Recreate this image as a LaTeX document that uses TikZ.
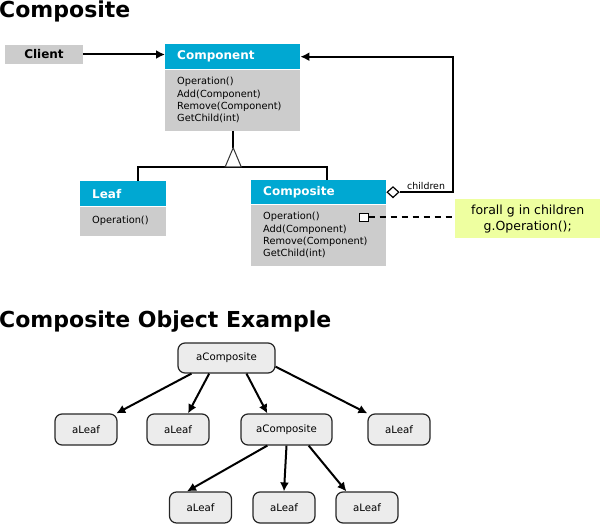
\documentclass[tikz,border=0pt]{standalone}
\usepackage{fontspec}
\setmainfont{DejaVu Sans}
\usetikzlibrary{calc,positioning,arrows.meta,shapes.geometric}
\definecolor{umlblue}{RGB}{0,168,210}
\definecolor{umlgray}{RGB}{204,204,204}
\definecolor{notegreen}{RGB}{238,255,160}
\definecolor{objgray}{RGB}{236,236,236}
\tikzset{
	>={Latex[length=9pt,width=9pt]},
	conn/.style={line width=2pt},
	head/.style={fill=umlblue, text=white, font=\bfseries\fontsize{12}{14}\selectfont, anchor=north west, inner xsep=12pt, inner ysep=0pt, align=left},
	body/.style={fill=umlgray, font=\fontsize{9.8}{12.2}\selectfont, anchor=north west, inner xsep=12pt, inner ysep=0pt, align=left},
	obj/.style={draw=black!85, line width=1.2pt, fill=objgray, rounded corners=7pt, minimum width=62pt, minimum height=31pt, font=\fontsize{10.2}{12}\selectfont},
	title/.style={font=\bfseries\fontsize{22}{26}\selectfont, anchor=base west, inner sep=0pt},
}

\begin{document}
\begin{tikzpicture}[x=1pt,y=-1pt]
	\useasboundingbox (0,0) rectangle (600,524);

	\node[title] (t1) at (-1,18) {Composite};
	\node[title] (t2) at (-1,327) {Composite Object Example};

	% class diagram
	\node[fill=umlgray, minimum width=78pt, minimum height=19pt, inner sep=0pt, font=\bfseries\fontsize{12}{14}\selectfont] (client) at (44,54.5) {Client};

	\node[head, text width=111pt, minimum height=25pt] (cmph) at (165,44) {Component};
	\node[body, text width=111pt, minimum height=61pt] (cmpb) at (cmph.south west) {Operation()\\Add(Component)\\Remove(Component)\\GetChild(int)};

	\node[head, text width=62pt, minimum height=25pt] (leafh) at (80,181) {Leaf};
	\node[body, text width=62pt, minimum height=29pt] (leafb) at (leafh.south west) {Operation()};

	\node[head, text width=111pt, minimum height=24pt] (cmsh) at (251,180) {Composite};
	\node[body, text width=111pt, minimum height=61pt] (cmsb) at (cmsh.south west) {Operation()\\Add(Component)\\Remove(Component)\\GetChild(int)};

	\node[fill=notegreen, minimum width=145pt, minimum height=39pt, inner sep=0pt, align=center, anchor=north west, font=\fontsize{12.5}{16}\selectfont] (note) at (455,199) {forall g in children\\g.Operation();};

	\draw[conn,->] (client.east) -- (client.east -| cmph.west);

	\coordinate (apex) at ($(cmpb.south)+(0.5,17)$);
	\coordinate (base) at ($(apex)+(0,19)$);
	\draw[conn] (cmpb.south -| apex) -- (apex);
	\draw[conn] ([xshift=15pt]leafh.north) |- (base) -| ([xshift=8.5pt]cmsh.north);
	\draw[line width=1pt, draw=black!80, fill=white] (apex) -- ++(8,19) -- ++(-16,0) -- cycle;

	\node[diamond, draw, fill=white, line width=1.2pt, inner sep=0pt, minimum width=12pt, minimum height=11pt, anchor=west] (agg) at (cmsh.east) {};
	\draw[conn,->] (agg.east) -- node[above, inner sep=2pt, font=\fontsize{9.4}{11}\selectfont] {children} ++(53,0) |- (cmph.east);

	\node[draw, fill=white, line width=0.9pt, inner sep=0pt, minimum size=8.5pt] (sq) at ($(cmsb.north east)+(-22.5,13)$) {};
	\draw[conn, dash pattern=on 6pt off 5pt] (sq.east) -- (note.west |- sq.east);

	% object example
	\node[obj, minimum width=97pt, minimum height=30pt] (top) at (226.5,358) {aComposite};
	\node[obj] (l1) at (86,429.5) {aLeaf};
	\node[obj] (l2) at (178,429.5) {aLeaf};
	\node[obj, minimum width=91pt] (c2) at (286.5,429.5) {aComposite};
	\node[obj] (l4) at (399,429.5) {aLeaf};
	\node[obj] (l5) at (200.5,507.5) {aLeaf};
	\node[obj] (l6) at (284,507.5) {aLeaf};
	\node[obj] (l7) at (367,507.5) {aLeaf};

	\draw[conn,->] (top.204) -- (l1.28);
	\draw[conn,->] (top.222) -- (l2.58);
	\draw[conn,->] (top.322) -- (c2.140);
	\draw[conn,->] (top.350) -- (l4.153);
	\draw[conn,->] (c2.220) -- (l5.130);
	\draw[conn,->] (c2.south) -- (l6.north);
	\draw[conn,->] (c2.324) -- (l7.142);
\end{tikzpicture}
\end{document}
